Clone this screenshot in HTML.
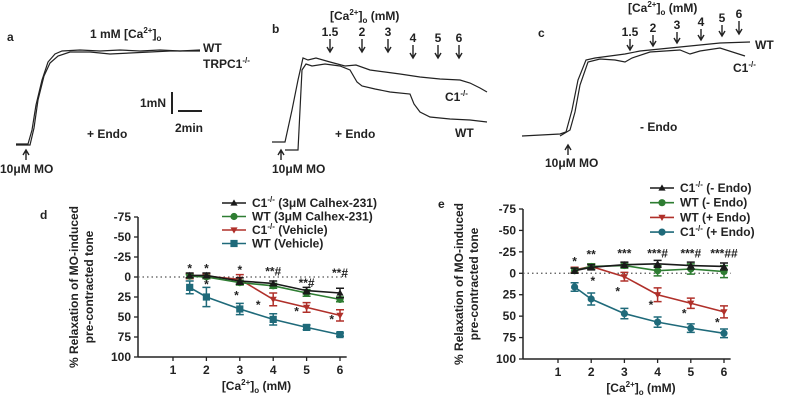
<!DOCTYPE html>
<html><head><meta charset="utf-8"><style>
body{margin:0;background:#fff;width:800px;height:401px;overflow:hidden}
svg{font-family:"Liberation Sans",sans-serif;font-weight:bold}
</style></head><body>
<svg id="fig" width="800" height="401" viewBox="0 0 800 401">
<g fill="none" stroke="#222" stroke-width="1.2">
<polyline points="16,144 28,144 32,130 36,105 42,80 48,62 55,54 62,51 80,50 100,51 120,50 140,51 160,50 180,51 200,50"/>
<polyline points="16,145 30,145 34,128 38,100 44,76 50,63 58,56 70,52 90,52 110,54 130,53 150,52 170,51 200,51"/>
<polyline points="272,142 285,142 292,110 298,80 303,58 308,60 316,58 330,62 345,66 356,65 370,70 385,72 400,74 420,77 440,79 460,80 470,83 480,88 487,92"/>
<polyline points="285,150 298,150 300,110 302,70 306,64 312,66 325,64 340,66 350,70 357,82 362,86 375,89 390,92 410,94 414,104 420,112 430,117 450,119 470,120 487,122"/>
<polyline points="522,136 560,134 566,132 572,110 578,80 586,60 595,58 610,56 625,54 640,51 660,49 680,47 700,45 720,43 750,42"/>
<polyline points="560,136 570,130 575,112 580,85 588,62 600,59 615,60 625,62 632,58 650,52 680,50 690,54 700,51 720,48 745,56"/>
</g>
<g font-size="12" fill="#222">
<text x="7" y="41">a</text>
<text x="90" y="38">1 mM [Ca<tspan font-size="8" dy="-5">2+</tspan><tspan dy="5">]</tspan><tspan font-size="8" dy="3">o</tspan></text>
<text x="203" y="52">WT</text>
<text x="203" y="68">TRPC1<tspan font-size="8" dy="-5">-/-</tspan></text>
<text x="140" y="107">1mN</text>
<text x="175" y="132">2min</text>
<text x="87" y="138">+ Endo</text>
<text x="0" y="173">10μM MO</text>
<text x="272" y="33">b</text>
<text x="330" y="20">[Ca<tspan font-size="8" dy="-5">2+</tspan><tspan dy="5">]</tspan><tspan font-size="8" dy="3">o</tspan><tspan dy="-3"> (mM)</tspan></text>
<text x="445" y="101">C1<tspan font-size="8" dy="-5">-/-</tspan></text>
<text x="455" y="137">WT</text>
<text x="335" y="138">+ Endo</text>
<text x="272" y="173">10μM MO</text>
<text x="538" y="37">c</text>
<text x="628" y="12">[Ca<tspan font-size="8" dy="-5">2+</tspan><tspan dy="5">]</tspan><tspan font-size="8" dy="3">o</tspan><tspan dy="-3"> (mM)</tspan></text>
<text x="755" y="49">WT</text>
<text x="733" y="72">C1<tspan font-size="8" dy="-5">-/-</tspan></text>
<text x="640" y="131">- Endo</text>
<text x="545" y="167">10μM MO</text>
</g>
<g stroke="#222" stroke-width="2">
<line x1="172" y1="92" x2="172" y2="114"/><line x1="178" y1="111" x2="202" y2="111"/>
</g>
<g id="arrows"></g>
<g id="charts"></g>
</svg>
<script>
const NS="http://www.w3.org/2000/svg";
function mk(tag,attrs,parent,txt){const e=document.createElementNS(NS,tag);for(const k in attrs)e.setAttribute(k,attrs[k]);if(txt!==undefined)e.textContent=txt;parent.appendChild(e);return e;}
const arrowsG=document.getElementById('arrows');
const arrowsB=[[330,36,52,"1.5"],[362,36,52,"2"],[388,36,52,"3"],[413,42,58,"4"],[438,42,58,"5"],[459,42,58,"6"]];
const arrowsC=[[630,36,50,"1.5"],[653,32,46,"2"],[677,29,43,"3"],[701,26,40,"4"],[722,22,36,"5"],[739,18,34,"6"]];
const moArrows=[[26,150,160],[281,150,160],[568,145,155]];
function downArrow(x,y0,y1){
  const a=mk('path',{d:`M${x},${y0+2} L${x},${y1} M${x-3},${y1-5} L${x},${y1} L${x+3},${y1-5}`,stroke:'#222','stroke-width':1.4,fill:'none'},arrowsG);
  
  
}
[...arrowsB,...arrowsC].forEach(d=>{
  const t=mk('text',{x:d[0],y:d[1],'text-anchor':'middle','font-size':12,fill:'#222'},arrowsG,d[3]);
  
  
  downArrow(d[0],d[1]+1,d[2]);
});
moArrows.forEach(d=>{
  const a=mk('path',{d:`M${d[0]},${d[2]} L${d[0]},${d[1]} M${d[0]-3},${d[1]+5} L${d[0]},${d[1]} L${d[0]+3},${d[1]+5}`,stroke:'#222','stroke-width':1.4,fill:'none'},arrowsG);
  
  
});

// ===== chart data =====
const xCats=[1.5,2,3,4,5,6];
const xTicks=[1,2,3,4,5,6];
const yTicks=[-75,-50,-25,0,25,50,75,100];
const dNames=["C1-/- (3μM Calhex-231)","WT (3μM Calhex-231)","C1-/- (Vehicle)","WT (Vehicle)"];
const dC1Calhex=[-2,-2,5,8,17,20];
const dWTCalhex=[-1,0,7,11,20,28];
const dC1Veh=[-1,-1,3,28,38,48];
const dWTVeh=[13,25,40,53,63,72];
const dErr=[[3,3,4,3,4,6],[2,2,3,3,4,3],[3,3,6,8,6,7],[8,12,7,7,3,2]];
const eNames=["C1-/- (- Endo)","WT (- Endo)","WT (+ Endo)","C1-/- (+ Endo)"];
const eC1Minus=[-3,-7,-10,-11,-9,-8];
const eWTMinus=[-3,-8,-9,-3,-5,-2];
const eWTPlus=[-4,-8,4,25,35,45];
const eC1Plus=[16,30,47,57,64,70];
const eErr=[[3,3,3,4,4,4],[3,3,3,6,6,7],[3,3,5,8,6,7],[5,7,6,6,5,5]];
const dStars=[[1.5,-12,"*"],[2,-12,"*"],[3,-10,"*"],[4,-8,"**#"],[5,6,"**#"],[6,-6,"**#"],[2,8,"*"],[2.9,22,"*"],[3.55,34,"*"],[4.7,42,"*"],[5.75,52,"*"]];
const eStars=[[1.5,-15,"*"],[2,-23,"**"],[3,-24,"***"],[4,-24,"***#"],[5,-24,"***#"],[6,-24,"***##"]];
const eStars2=[[2.05,8,"*"],[2.8,20,"*"],[3.8,36,"*"],[4.8,46,"*"],[5.8,56,"*"]];

const series=[{col:'#1a1a1a',m:'tri'},{col:'#2e7d32',m:'circ'},{col:'#b0302a',m:'tridown'},{col:'#1f6a7a',m:'sq'}];
const seriesE=[{col:'#1a1a1a',m:'tri'},{col:'#2e7d32',m:'circ'},{col:'#b0302a',m:'tridown'},{col:'#1f6a7a',m:'circ'}];

function chart(cfg){
  const g=mk('g',{},document.getElementById('charts'));
  
  
  const X=v=>cfg.x1+(v-1)*(cfg.x6-cfg.x1)/5;
  const Y=v=>cfg.y0+(v+75)*(cfg.y100-cfg.y0)/175;
  mk('line',{x1:cfg.ax,y1:Y(-75),x2:cfg.ax,y2:Y(100),stroke:'#222','stroke-width':1.5},g);
  mk('line',{x1:cfg.ax,y1:Y(100),x2:X(6.2),y2:Y(100),stroke:'#222','stroke-width':1.5},g);
  yTicks.forEach(t=>{
    mk('line',{x1:cfg.ax-4,y1:Y(t),x2:cfg.ax,y2:Y(t),stroke:'#222','stroke-width':1.3},g);
    const tx=mk('text',{x:cfg.ax-7,y:Y(t)+4,'text-anchor':'end','font-size':12,fill:'#222'},g,t);
    
    
  });
  xTicks.forEach(t=>{
    mk('line',{x1:X(t),y1:Y(100),x2:X(t),y2:Y(100)+4,stroke:'#222','stroke-width':1.3},g);
    const tx=mk('text',{x:X(t),y:Y(100)+17,'text-anchor':'middle','font-size':12,fill:'#222'},g,t);
    
    
  });
  mk('line',{x1:cfg.ax,y1:Y(0),x2:X(6.2),y2:Y(0),stroke:'#555','stroke-width':1.3,'stroke-dasharray':'1.5,3'},g);
  const xt=mk('text',{x:(X(1)+X(6))/2,y:Y(100)+33,'text-anchor':'middle','font-size':12,fill:'#222'},g);
  
  
  xt.innerHTML='[Ca<tspan font-size="8" dy="-5">2+</tspan><tspan dy="5">]</tspan><tspan font-size="8" dy="3">o</tspan><tspan dy="-3"> (mM)</tspan>';
  const cy=(Y(-75)+Y(100))/2;
  const yt=mk('text',{transform:`translate(${cfg.ax-60},${cy}) rotate(-90)`,'text-anchor':'middle','font-size':12,fill:'#222'},g,'% Relaxation of MO-induced');
  
  
  const yt2=mk('text',{transform:`translate(${cfg.ax-45},${cy}) rotate(-90)`,'text-anchor':'middle','font-size':12,fill:'#222'},g,'pre-contracted tone');
  
  
  const pl=mk('text',{x:cfg.plx,y:cfg.ply,'font-size':12,fill:'#222'},g,cfg.label);
  
  
  function marker(x,y,s,gg){
    const r=3.6;let e;
    if(s.m==='circ')e=mk('circle',{cx:x,cy:y,r:r,fill:s.col},gg);
    else if(s.m==='sq')e=mk('rect',{x:x-r,y:y-r,width:2*r,height:2*r,fill:s.col},gg);
    else if(s.m==='tri')e=mk('path',{d:`M${x},${y-r} L${x+r},${y+r-1} L${x-r},${y+r-1}Z`,fill:s.col},gg);
    else e=mk('path',{d:`M${x},${y+r} L${x+r},${y-r+1} L${x-r},${y-r+1}Z`,fill:s.col},gg);
    return e;
  }
  for(let i=cfg.data.length-1;i>=0;i--){
    const s=cfg.styles[i],vals=cfg.data[i],err=cfg.err[i];
    const sg=mk('g',{},g);
    
    
    mk('polyline',{points:vals.map((v,j)=>X(xCats[j])+','+Y(v)).join(' '),fill:'none',stroke:s.col,'stroke-width':1.6},sg);
    vals.forEach((v,j)=>{
      const x=X(xCats[j]),y=Y(v),e=err[j];
      const eb=mk('path',{d:`M${x},${Y(v-e)} L${x},${Y(v+e)} M${x-4},${Y(v-e)} L${x+4},${Y(v-e)} M${x-4},${Y(v+e)} L${x+4},${Y(v+e)}`,stroke:s.col,'stroke-width':1.5,fill:'none'},sg);
      
      
      const mkr=marker(x,y,s,sg);
      
      
    });
  }
  cfg.stars.forEach(st=>{
    const t=mk('text',{x:X(st[0]),y:Y(st[1])+5,'text-anchor':'middle','font-size':12,fill:'#222'},g,st[2]);
    
    
  });
  cfg.names.forEach((n,i)=>{
    const ly=cfg.ly+i*cfg.lsp, s=cfg.styles[i];
    const lg=mk('g',{},g);
    
    
    mk('line',{x1:cfg.lx,y1:ly,x2:cfg.lx+24,y2:ly,stroke:s.col,'stroke-width':1.6},lg);
    marker(cfg.lx+12,ly,s,lg);
    const m=n.match(/^(C1)-\/-(.*)$/);
    const t=mk('text',{x:cfg.lx+30,y:ly+4,'font-size':12,fill:'#222'},lg);
    if(m)t.innerHTML='C1<tspan font-size="8" dy="-5">-/-</tspan><tspan dy="5">'+m[2]+'</tspan>';
    else t.textContent=n;
  });
}
chart({name:'chart-d',label:'d',plx:40,ply:219,ax:138,x1:173,x6:340,y0:217,y100:357,data:[dC1Calhex,dWTCalhex,dC1Veh,dWTVeh],err:dErr,styles:series,names:dNames,stars:dStars,lx:222,ly:203,lsp:13.5});
chart({name:'chart-e',label:'e',plx:438,ply:208,ax:523,x1:558,x6:724,y0:209,y100:359,data:[eC1Minus,eWTMinus,eWTPlus,eC1Plus],err:eErr,styles:seriesE,names:eNames,stars:[...eStars,...eStars2],lx:650,ly:188,lsp:14.7});
</script>
</body></html>
